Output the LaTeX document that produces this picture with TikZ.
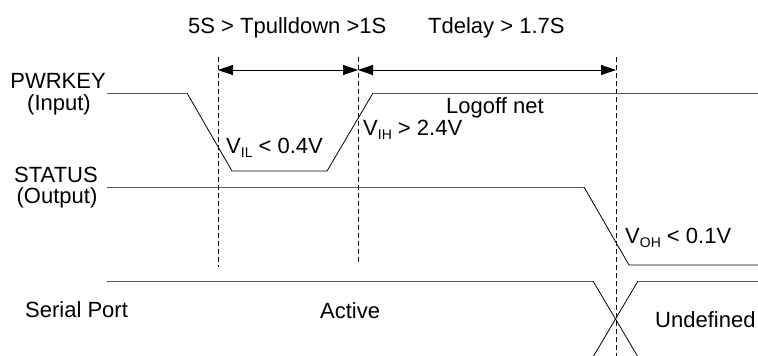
\documentclass[tikz,border=0pt]{standalone}
\usepackage{fontspec}
\setmainfont{Liberation Sans}
\usetikzlibrary{arrows.meta}
\tikzset{
  lbl/.style={inner sep=0pt, anchor=base west, font=\fontsize{22}{23}\selectfont},
  side/.style={lbl, anchor=base},
  level/.style={black!65, line width=1pt},
  wave/.style={black, line width=0.8pt},
  guide/.style={black, line width=0.8pt, dash pattern=on 5pt off 3pt},
  span/.style={black, line width=0.8pt, {Triangle[length=15pt,width=10pt]}-{Triangle[length=15pt,width=10pt]}},
}
\newcommand{\lowtxt}[1]{\raisebox{-4pt}{\fontsize{14}{14}\selectfont #1}}
\begin{document}
	\begin{tikzpicture}[x=1pt, y=-1pt]
		\useasboundingbox (0,0) rectangle (758,356);
		
		% guide lines
		\coordinate (g1) at (218,57);
		\coordinate (g2) at (358,57);
		\coordinate (g3) at (616,57);
		\draw[guide] (g1) -- (218,267);
		\draw[guide] (g2) -- (358,265);
		\draw[guide] (g3) -- (616,356);
		
		% timing spans
		\draw[span] (218,70) -- (358,70);
		\draw[span] (358,70) -- (616,70);
		\node[lbl] (tpull) at (188,34) {5S > Tpulldown >1S};
		\node[lbl] (tdel) at (428,34) {Tdelay > 1.7S};
		
		% PWRKEY
		\node[side] (pwr) at (58,88) {PWRKEY};
		\node[side] (pwrin) at (59,110) {(Input)};
		\draw[level] (107,93) -- (187,93);
		\draw[wave] (187,93) -- (232,171) -- (327,171) -- (373,93);
		\draw[level] (373,93) -- (758,93);
		\node[lbl] (vil) at (226,153) {V\lowtxt{IL} < 0.4V};
		\node[lbl] (vih) at (363,135) {V\lowtxt{IH} > 2.4V};
		\node[lbl] (logoff) at (446,113) {Logoff net};
		
		% STATUS
		\node[side] (stat) at (56,182) {STATUS};
		\node[side] (statout) at (57,203) {(Output)};
		\draw[level] (107,187) -- (584,187);
		\draw[wave] (584,187) -- (629,265) -- (758,265);
		\node[lbl] (voh) at (625,243) {V\lowtxt{OH} < 0.1V};
		
		% serial port
		\draw[level] (107,281) -- (593,281);
		\draw[wave] (593,281) -- (638,357);
		\draw[wave] (638,281) -- (593,357);
		\draw[level] (638,281) -- (758,281);
		\node[lbl] (ser) at (25,317) {Serial Port};
		\node[lbl] (act) at (320,318) {Active};
		\node[lbl] (undef) at (655,327) {Undefined};
		
	\end{tikzpicture}
\end{document}
